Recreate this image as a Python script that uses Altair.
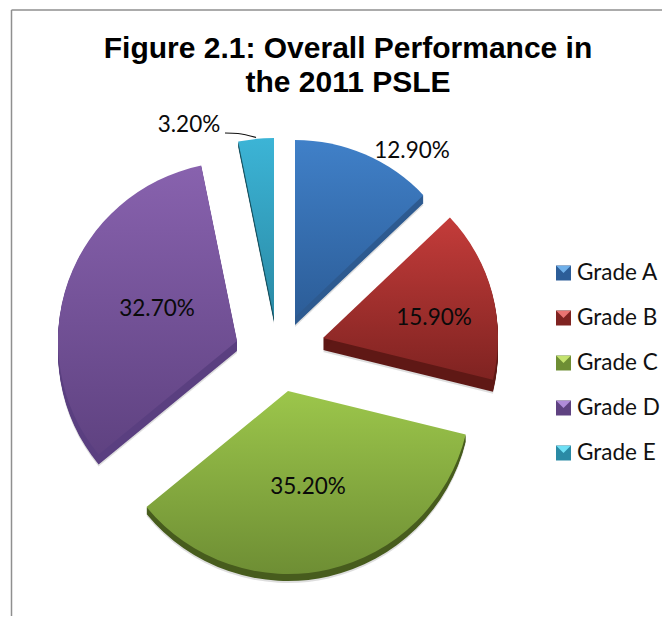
import altair as alt
import pandas as pd

categories = ["Grade A", "Grade B", "Grade C", "Grade D", "Grade E"]
shares = [12.9, 15.9, 35.2, 32.7, 3.2]
labels = ["12.90%", "15.90%", "35.20%", "32.70%", "3.20%"]
title_lines = ["Figure 2.1: Overall Performance in", "the 2011 PSLE"]

OFF = 8
centre_x = [295, 323, 288, 237, 274]
centre_y = [317, 338, 391, 341, 317]
radius_px = [177, 175, 183, 179, 179]
depth_px = [8, 12, 7, 10, 5]
label_x = [412, 434, 308, 157, 189]
label_y = [151, 318, 487, 309, 125]
legend_y = [273, 318, 363, 408, 453]
top_col = ["#4080c8", "#c43c3a", "#9cc64b", "#8862ae", "#3cb4d6"]
bot_col = ["#2c5d98", "#7f2321", "#6e8e34", "#5f4281", "#2a8aa5"]
side_col = ["#2d5a90", "#5f1815", "#475c1d", "#5a3f80", "#14505f"]
light_col = ["#6fb0ea", "#ea7472", "#c4e36f", "#b08bd8", "#6fe0f5"]

start, end, s = [], [], 0.0
for v in shares:
    start.append(s)
    s += v
    end.append(s)
theta_scale = alt.Scale(domain=[0, s], range=[0, 6.283185307])

rows = pd.DataFrame({
    "grade": categories, "start": start, "end": end,
    "cx": [v - OFF for v in centre_x], "cy": [v - OFF for v in centre_y],
    "r": radius_px, "depth": depth_px, "label": labels,
    "lx": [v - OFF for v in label_x], "ly": [v - OFF for v in label_y],
    "legy": [v - OFF for v in legend_y],
    "side": side_col, "light": light_col, "bot": bot_col,
})


def slice_enc(y_field):
    return dict(
        x=alt.X("cx:Q", scale=None),
        y=alt.Y(y_field, scale=None),
        theta=alt.Theta("start:Q", scale=theta_scale),
        theta2=alt.Theta2("end:Q"),
        radius=alt.Radius("r:Q", scale=None),
    )


extr = pd.DataFrame([
    dict(r0, yy=r0["cy"] + d)
    for r0 in rows.to_dict("records") for d in range(1, r0["depth"] + 1)
])
shadow = alt.Chart(rows).transform_calculate(yy="datum.cy + datum.depth + 2").mark_arc(
    color="#888888", opacity=0.28).encode(**slice_enc("yy:Q"))
sides = alt.Chart(extr).mark_arc().encode(
    color=alt.Color("side:N", scale=None), **slice_enc("yy:Q"))

faces = []
for i in range(len(categories)):
    faces.append(
        alt.Chart(rows.iloc[[i]]).mark_arc(
            color=alt.Gradient(
                gradient="linear",
                stops=[alt.GradientStop(color=top_col[i], offset=0),
                       alt.GradientStop(color=bot_col[i], offset=1)],
                x1=0, x2=0, y1=0, y2=1,
            )
        ).encode(**slice_enc("cy:Q"))
    )

values = alt.Chart(rows).mark_text(
    font="Lato", fontSize=22.5, color="#0a0a0a", baseline="middle", align="center"
).encode(x=alt.X("lx:Q", scale=None), y=alt.Y("ly:Q", scale=None), text="label:N")

leader = alt.Chart(pd.DataFrame({
    "x": [225 - OFF, 238 - OFF, 256 - OFF],
    "y": [133 - OFF, 133.5 - OFF, 137.5 - OFF],
})).mark_line(color="#111111", strokeWidth=1.2, interpolate="monotone").encode(
    x=alt.X("x:Q", scale=None), y=alt.Y("y:Q", scale=None))

leg_x = 563.5 - OFF
rows_leg = rows.assign(px=leg_x, tx=577 - OFF)
leg_base = alt.Chart(rows_leg).mark_point(shape="square", filled=True, size=225, opacity=1).encode(
    x=alt.X("px:Q", scale=None), y=alt.Y("legy:Q", scale=None),
    color=alt.Color("bot:N", scale=None))
leg_top = alt.Chart(rows_leg).mark_point(
    shape="M-1,-1L1,-1L0,0Z", filled=True, size=196, opacity=1).encode(
    x=alt.X("px:Q", scale=None), y=alt.Y("legy:Q", scale=None),
    color=alt.Color("light:N", scale=None))
leg_text = alt.Chart(rows_leg).mark_text(
    font="Lato", fontSize=22.5, color="#111111", align="left", baseline="middle"
).encode(x=alt.X("tx:Q", scale=None), y=alt.Y("legy:Q", scale=None), text="grade:N")

title = alt.Chart(pd.DataFrame({
    "t": title_lines, "x": [348 - OFF, 348 - OFF], "y": [58 - OFF, 92 - OFF],
})).mark_text(
    font="Liberation Sans", fontWeight="bold", fontSize=30, color="#000000",
    align="center", baseline="alphabetic",
).encode(x=alt.X("x:Q", scale=None), y=alt.Y("y:Q", scale=None), text="t:N")

frame_h = alt.Chart(pd.DataFrame({"x": [11.5 - OFF], "x2": [654], "y": [10 - OFF]})).mark_rule(
    color="#8f8f8f", strokeWidth=1.5).encode(
    x=alt.X("x:Q", scale=None), x2="x2:Q", y=alt.Y("y:Q", scale=None))
frame_v = alt.Chart(pd.DataFrame({"x": [11.5 - OFF], "y": [10 - OFF], "y2": [608]})).mark_rule(
    color="#8f8f8f", strokeWidth=1.5).encode(
    x=alt.X("x:Q", scale=None), y=alt.Y("y:Q", scale=None), y2="y2:Q")

chart = alt.layer(
    frame_h, frame_v, shadow, sides, *faces, values, leader,
    leg_base, leg_top, leg_text, title,
).properties(width=654, height=608, padding=0, autosize=alt.AutoSizeParams(type="none")
).configure_view(stroke=None)

chart.save("out.html", embed_options={"renderer": "svg", "actions": False})
